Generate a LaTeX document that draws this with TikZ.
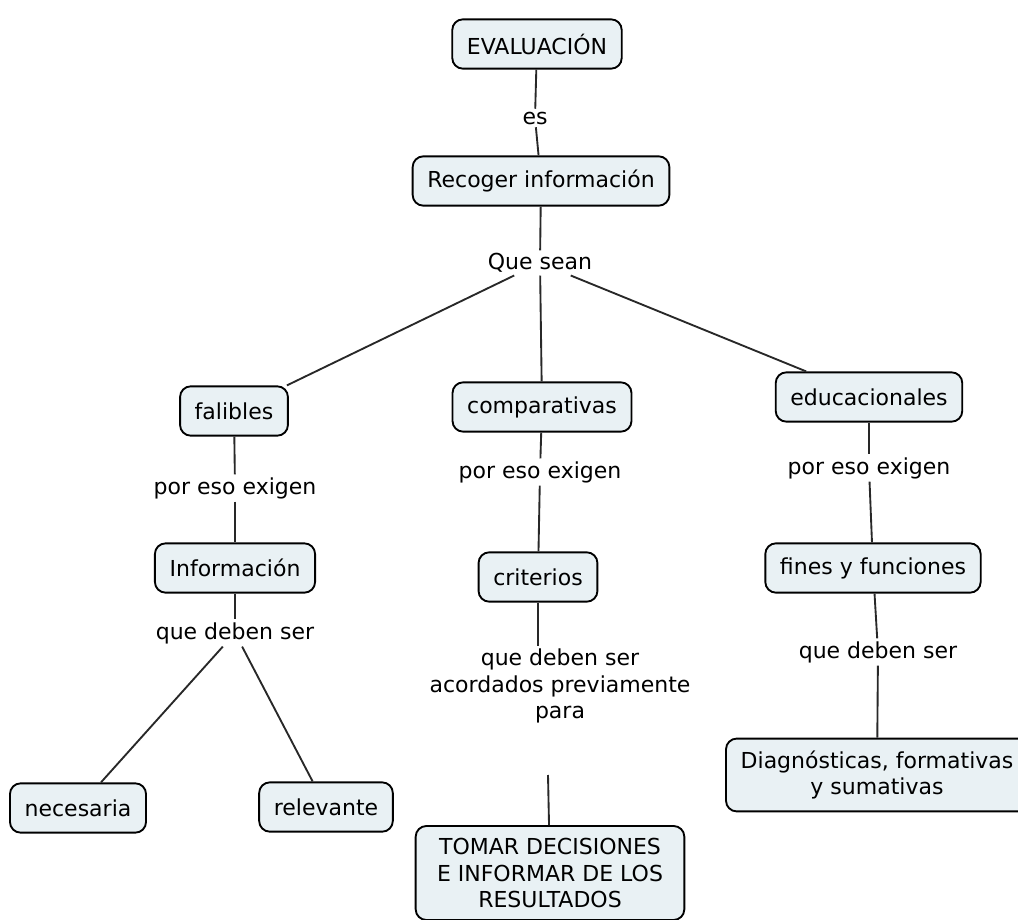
\documentclass[tikz,border=0pt]{standalone}
\usepackage{fontspec}
\setmainfont{DejaVu Sans}
\usepackage{tikz, xcolor}

\definecolor{boxfill}{RGB}{233,241,244}
\definecolor{linegray}{RGB}{40,40,40}

\begin{document}
\begin{tikzpicture}[x=0.75pt, y=-0.75pt, font=\fontsize{16.5}{20}\selectfont]
\tikzstyle{vertexr}=[rectangle, rounded corners=8pt, draw=black, fill=boxfill, line width=1.4pt, minimum height=37pt, inner xsep=11pt, inner ysep=6pt, align=center]
\tikzstyle{vertexl}=[inner sep=2pt, align=center]
\tikzstyle{drawstyle}=[line width=1.4pt, draw=linegray]

\useasboundingbox (0,0) rectangle (1018,920);

\node[vertexr] (G1x0) at (537,44) {EVALUACIÓN};
\node[vertexl] (G1x0l) at (535,118) {es};
\node[vertexr] (G1x1) at (541,181) {Recoger información};
\node[vertexl] (G1x1l) at (540,263) {Que sean};
\draw[drawstyle] (G1x0) -- (G1x0l);
\draw[drawstyle] (G1x0l) -- (G1x1);
\draw[drawstyle] (G1x1) -- (G1x1l);
% rama izquierda
\node[vertexr] (G0x2) at (234,411) {falibles};
\node[vertexl] (G0x2l) at (235,488) {por eso exigen};
\node[vertexr] (G0x3) at (235,568) {Información};
\node[vertexl] (G0x3l) at (235,633) {que deben ser};
\node[vertexr] (G0x4) at (78,808) {necesaria};
\node[vertexr] (G1x4) at (326,807) {relevante};
\draw[drawstyle] (G0x2) -- (G0x2l);
\draw[drawstyle] (G0x2l) -- (G0x3);
\draw[drawstyle] (G0x3) -- (G0x3l);
\draw[drawstyle] (G0x3l) -- (G0x4);
\draw[drawstyle] (G0x3l) -- (G1x4);
\draw[drawstyle] (G1x1l) -- (G0x2);
% rama central
\node[vertexr] (G2x2) at (542,407) {comparativas};
\node[vertexl] (G2x2l) at (540,472) {por eso exigen};
\node[vertexr] (G2x3) at (538,577) {criterios};
\node[vertexl] (G2x3l) at (560,686) {que deben ser\\acordados previamente\\para};
\coordinate (G2x3e) at (548,775);
\node[vertexr, inner xsep=16pt, inner ysep=9pt] (G2x4) at (550,873) {TOMAR DECISIONES\\E INFORMAR DE LOS\\RESULTADOS};
\draw[drawstyle] (G2x2) -- (G2x2l);
\draw[drawstyle] (G2x2l) -- (G2x3);
\draw[drawstyle] (G2x3) -- (G2x3l.north -| G2x3);
\draw[drawstyle] (G2x3e) -- (G2x4);
\draw[drawstyle] (G1x1l) -- (G2x2);
% rama derecha
\node[vertexr] (G3x2) at (869,397) {educacionales};
\node[vertexl] (G3x2l) at (869,468) {por eso exigen};
\node[vertexr] (G3x3) at (873,568) {fines y funciones};
\node[vertexl] (G3x3l) at (878,652) {que deben ser};
\node[vertexr, inner xsep=11pt, inner ysep=9pt] (G3x4) at (877,775) {Diagnósticas, formativas\\y sumativas};
\draw[drawstyle] (G3x2) -- (G3x2l);
\draw[drawstyle] (G3x2l) -- (G3x3);
\draw[drawstyle] (G3x3) -- (G3x3l);
\draw[drawstyle] (G3x3l) -- (G3x4);
\draw[drawstyle] (G1x1l) -- (G3x2);
\end{tikzpicture}
\end{document}
